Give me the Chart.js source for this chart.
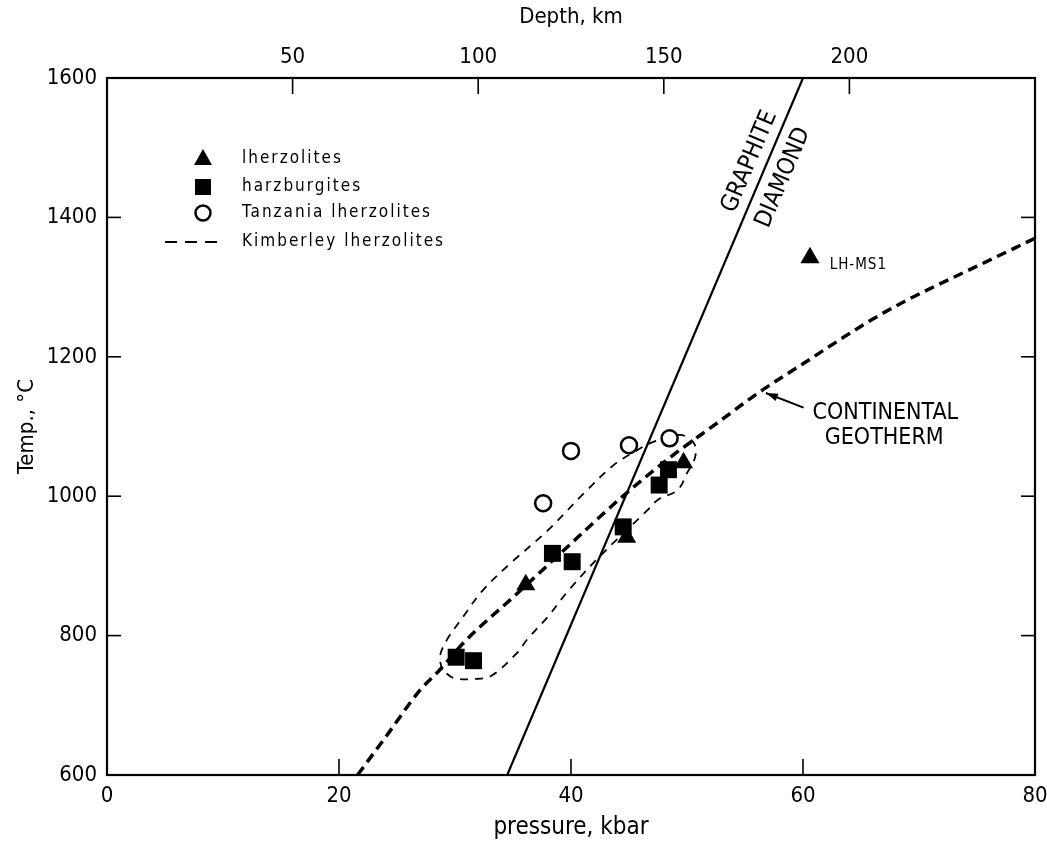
<!DOCTYPE html>
<html>
<head>
<meta charset="utf-8">
<script src="https://cdn.jsdelivr.net/npm/chart.js@4.4.1/dist/chart.umd.min.js"></script>
<style>
  html, body { margin: 0; padding: 0; background: #fff; }
</style>
</head>
<body>
<canvas id="chart_1" width="1047" height="842"></canvas>
<script>
// --- data ---
var pressureTicks = [0, 20, 40, 60, 80];
var tempTicks = [600, 800, 1000, 1200, 1400, 1600];
var depthTicks = [50, 100, 150, 200];

var lherzP = [36.1, 44.8, 49.7, 60.6];
var lherzT = [873, 941, 1048, 1342];

var harzP = [30.1, 31.6, 38.4, 40.1, 44.5, 47.6, 48.4];
var harzT = [769, 764, 918, 906, 956, 1016, 1038];

var tanzP = [37.6, 40.0, 45.0, 48.5];
var tanzT = [990, 1065, 1073, 1083];

// continental geotherm (thick dashes)
var geoP = [21.6, 24, 27, 28.7, 30.7, 35.4, 40, 44.4, 48.5, 52.6, 56.3, 60, 65.6, 68.7, 75, 80];
var geoT = [600, 654, 722, 751, 789, 861, 932, 999, 1055, 1105, 1150, 1190, 1250, 1279, 1330, 1370];

// Kimberley lherzolites field (thin dashed outline)
var kimP = [28.9, 28.7, 29.2, 30.7, 32.4, 34.8, 38.0, 41.4, 43.7, 45.4, 47.1, 49.4, 50.6, 50.7, 50.0, 49.2, 47.5, 46.6, 42.5, 39.8, 38.0, 36.2, 35.4, 33.2, 31.9, 29.9, 28.9];
var kimT = [751, 769, 791, 827, 865, 904, 951, 1009, 1045, 1063, 1078, 1088, 1076, 1056, 1033, 1009, 995, 980, 914, 865, 827, 794, 776, 743, 738, 739, 751];

// graphite / diamond boundary
var gdP = [34.5, 60.0];
var gdT = [600, 1600];

function pts(xs, ys) {
  var out = [];
  for (var i = 0; i < xs.length; i++) out.push({x: xs[i], y: ys[i]});
  return out;
}

var FONT = "'DejaVu Sans Condensed', 'DejaVu Sans', sans-serif";

function noPad(s) { s.paddingLeft = 0; s.paddingRight = 0; }

// inward ticks, frame, labels, legend
var decor = {
  id: 'decor',
  afterDatasetsDraw: function(chart) {
    var ctx = chart.ctx, a = chart.chartArea;
    var sx = chart.scales.x, sy = chart.scales.y, st = chart.scales.xTop;
    ctx.save();
    ctx.strokeStyle = '#000';
    ctx.fillStyle = '#000';
    ctx.lineWidth = 1.6;
    pressureTicks.forEach(function(v) {
      if (v <= 0 || v >= 80) return;
      var x = sx.getPixelForValue(v);
      ctx.beginPath(); ctx.moveTo(x, a.bottom); ctx.lineTo(x, a.bottom - 16); ctx.stroke();
    });
    tempTicks.forEach(function(v) {
      if (v <= 600 || v >= 1600) return;
      var y = sy.getPixelForValue(v);
      ctx.beginPath(); ctx.moveTo(a.left, y); ctx.lineTo(a.left + 14, y); ctx.stroke();
      ctx.beginPath(); ctx.moveTo(a.right, y); ctx.lineTo(a.right - 14, y); ctx.stroke();
    });
    depthTicks.forEach(function(v) {
      var x = st.getPixelForValue(v);
      ctx.beginPath(); ctx.moveTo(x, a.top); ctx.lineTo(x, a.top + 16); ctx.stroke();
    });
    ctx.lineWidth = 2.2;
    ctx.strokeRect(a.left, a.top, a.right - a.left, a.bottom - a.top);

    // GRAPHITE / DIAMOND along the boundary line
    var p1x = sx.getPixelForValue(gdP[0]), p1y = sy.getPixelForValue(gdT[0]);
    var p2x = sx.getPixelForValue(gdP[1]), p2y = sy.getPixelForValue(gdT[1]);
    var ang = Math.atan2(p2y - p1y, p2x - p1x);
    ctx.font = '24px ' + FONT;
    ctx.textAlign = 'center';
    ctx.textBaseline = 'middle';
    [['GRAPHITE', 55.4, 1480], ['DIAMOND', 58.3, 1457]].forEach(function(t) {
      ctx.save();
      ctx.translate(sx.getPixelForValue(t[1]), sy.getPixelForValue(t[2]));
      ctx.rotate(ang);
      ctx.fillText(t[0], 0, 0);
      ctx.restore();
    });

    // CONTINENTAL GEOTHERM with arrow
    ctx.font = '23px ' + FONT;
    ctx.fillText('CONTINENTAL', sx.getPixelForValue(67.1), sy.getPixelForValue(1120));
    ctx.fillText('GEOTHERM', sx.getPixelForValue(67.0), sy.getPixelForValue(1083));
    var tx = sx.getPixelForValue(56.8), ty = sy.getPixelForValue(1148);
    var fx = sx.getPixelForValue(60.05), fy = sy.getPixelForValue(1127);
    ctx.lineWidth = 2;
    ctx.beginPath(); ctx.moveTo(fx, fy); ctx.lineTo(tx, ty); ctx.stroke();
    var aa = Math.atan2(ty - fy, tx - fx);
    ctx.beginPath();
    ctx.moveTo(tx, ty);
    ctx.lineTo(tx - 12 * Math.cos(aa) + 4 * Math.sin(aa), ty - 12 * Math.sin(aa) - 4 * Math.cos(aa));
    ctx.lineTo(tx - 12 * Math.cos(aa) - 4 * Math.sin(aa), ty - 12 * Math.sin(aa) + 4 * Math.cos(aa));
    ctx.closePath(); ctx.fill();

    // LH-MS1
    ctx.font = '15px ' + FONT;
    ctx.textAlign = 'left';
    ctx.letterSpacing = '1px';
    ctx.fillText('LH-MS1', sx.getPixelForValue(62.3), sy.getPixelForValue(1332));

    // legend
    var mx = 203, tx0 = 242;
    var rows = [159, 187, 213, 242];
    var names = ['lherzolites', 'harzburgites', 'Tanzania lherzolites', 'Kimberley lherzolites'];
    ctx.font = '17px ' + FONT;
    ctx.letterSpacing = '2px';
    ctx.textAlign = 'left';
    ctx.textBaseline = 'middle';
    names.forEach(function(n, i) { ctx.fillText(n, tx0, rows[i]); });
    ctx.letterSpacing = '0px';
    // triangle
    ctx.beginPath();
    ctx.moveTo(mx, rows[0] - 10); ctx.lineTo(mx + 9, rows[0] + 6); ctx.lineTo(mx - 9, rows[0] + 6);
    ctx.closePath(); ctx.fill();
    // square
    ctx.fillRect(mx - 8, rows[1] - 8, 16, 16);
    // circle
    ctx.lineWidth = 2.5;
    ctx.beginPath(); ctx.arc(mx, rows[2], 7.5, 0, Math.PI * 2); ctx.stroke();
    // dashes
    ctx.lineWidth = 2.2;
    ctx.setLineDash([12, 8]);
    ctx.beginPath(); ctx.moveTo(165, rows[3]); ctx.lineTo(218, rows[3]); ctx.stroke();
    ctx.restore();
  }
};

function plain(v) { return String(v); }

var ctx_1 = document.getElementById('chart_1').getContext('2d');
var chart_1 = new Chart(ctx_1, {
  type: 'scatter',
  data: {
    datasets: [
      {
        label: 'lherzolites',
        data: pts(lherzP, lherzT),
        pointStyle: 'triangle',
        pointRadius: 11,
        backgroundColor: '#000',
        borderColor: '#000',
        borderWidth: 0
      },
      {
        label: 'harzburgites',
        data: pts(harzP, harzT),
        pointStyle: 'rect',
        pointRadius: 12,
        backgroundColor: '#000',
        borderColor: '#000',
        borderWidth: 0
      },
      {
        label: 'Tanzania lherzolites',
        data: pts(tanzP, tanzT),
        pointStyle: 'circle',
        pointRadius: 8,
        backgroundColor: '#fff',
        borderColor: '#000',
        borderWidth: 2.5
      },
      {
        label: 'Kimberley lherzolites',
        data: pts(kimP, kimT),
        showLine: true,
        tension: 0.35,
        pointRadius: 0,
        borderColor: '#000',
        borderWidth: 1.8,
        borderDash: [8, 7]
      },
      {
        label: 'continental geotherm',
        data: pts(geoP, geoT),
        showLine: true,
        cubicInterpolationMode: 'monotone',
        pointRadius: 0,
        borderColor: '#000',
        borderWidth: 3.5,
        borderDash: [10, 6]
      },
      {
        label: 'graphite-diamond',
        data: pts(gdP, gdT),
        showLine: true,
        pointRadius: 0,
        borderColor: '#000',
        borderWidth: 2.2
      }
    ]
  },
  options: {
    responsive: false,
    animation: false,
    devicePixelRatio: 1,
    layout: { padding: 0 },
    plugins: {
      legend: { display: false },
      tooltip: { enabled: false }
    },
    scales: {
      x: {
        type: 'linear',
        position: 'bottom',
        min: 0, max: 80,
        afterBuildTicks: function(s) { s.ticks = pressureTicks.map(function(v) { return {value: v}; }); },
        afterFit: function(s) { s.height = 67; noPad(s); },
        grid: { display: false, drawTicks: false },
        border: { display: false },
        ticks: { color: '#000', font: { family: FONT, size: 22 }, padding: 8, maxRotation: 0, callback: plain },
        title: { display: true, text: 'pressure, kbar', color: '#000', font: { family: FONT, size: 24 }, padding: { top: 0, bottom: 0 } }
      },
      xTop: {
        type: 'linear',
        position: 'top',
        min: 0, max: 250,
        afterBuildTicks: function(s) { s.ticks = depthTicks.map(function(v) { return {value: v}; }); },
        afterFit: function(s) { s.height = 78; noPad(s); },
        grid: { display: false, drawTicks: false },
        border: { display: false },
        ticks: { color: '#000', font: { family: FONT, size: 22 }, padding: 8, maxRotation: 0, callback: plain },
        title: { display: true, text: 'Depth, km', color: '#000', font: { family: FONT, size: 22 }, padding: { top: 4, bottom: 0 } }
      },
      y: {
        type: 'linear',
        position: 'left',
        min: 600, max: 1600,
        afterBuildTicks: function(s) { s.ticks = tempTicks.map(function(v) { return {value: v}; }); },
        afterFit: function(s) { s.width = 107; },
        grid: { display: false, drawTicks: false },
        border: { display: false },
        ticks: { color: '#000', font: { family: FONT, size: 22 }, padding: 10, callback: plain },
        title: { display: true, text: 'Temp., °C', color: '#000', font: { family: FONT, size: 22 }, padding: { top: 14, bottom: 0 } }
      },
      yRight: {
        type: 'linear',
        position: 'right',
        display: true,
        min: 600, max: 1600,
        afterFit: function(s) { s.width = 12; },
        grid: { display: false, drawTicks: false },
        border: { display: false },
        ticks: { display: false }
      }
    }
  },
  plugins: [decor]
});
</script>
</body>
</html>
